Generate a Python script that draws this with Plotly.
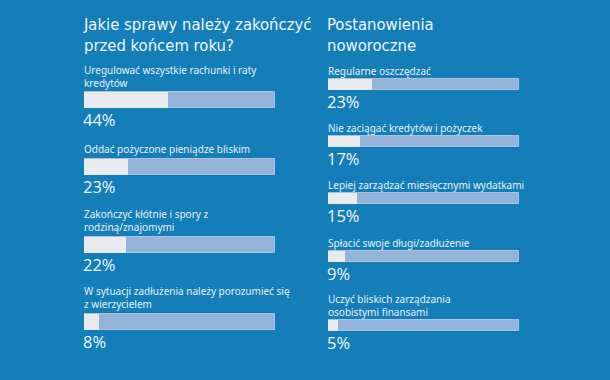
import plotly.graph_objects as go

# ---- data ----
left_title = ["Jakie sprawy należy zakończyć", "przed końcem roku?"]
left_labels = [
    "Uregulować wszystkie rachunki i raty\nkredytów",
    "Oddać pożyczone pieniądze bliskim",
    "Zakończyć kłótnie i spory z\nrodziną/znajomymi",
    "W sytuacji zadłużenia należy porozumieć się\nz wierzycielem",
]
left_values = [44, 23, 22, 8]

right_title = ["Postanowienia", "noworoczne"]
right_labels = [
    "Regularne oszczędzać",
    "Nie zaciągać kredytów i pożyczek",
    "Lepiej zarządzać miesięcznymi wydatkami",
    "Spłacić swoje długi/zadłużenie",
    "Uczyć bliskich zarządzania\nosobistymi finansami",
]
right_values = [23, 17, 15, 9, 5]

# ---- layout / style ----
W, H = 610, 380
BG = "#137eb8"
TRACK = "#94b3d9"
FILL = "#e9ebef"
TXT = "#e8eff6"
LABEL_FONT = "Noto Sans"
TITLE_FONT = "DejaVu Sans Condensed"

left_centers = [100, 166.5, 244.5, 321.5]
left_h = 16
right_centers = [84.5, 141.5, 198.5, 256.5, 325.5]
right_h = 11

fig = go.Figure()
annotations = []


def add_panel(xref, labels, values, centers, h, title, title_y, gap):
    fig.add_trace(go.Bar(
        x=[100] * len(values), y=centers, width=h, orientation="h",
        marker=dict(color=TRACK, line=dict(color="#a7c1e2", width=1)),
        xaxis=xref, yaxis="y", hoverinfo="skip", showlegend=False))
    fig.add_trace(go.Bar(
        x=values, y=centers, width=h, orientation="h",
        marker=dict(color=FILL, line=dict(width=0)),
        xaxis=xref, yaxis="y", showlegend=False))
    annotations.append(dict(
        x=0, y=title_y, xref=xref, yref="y", text="<br>".join(title),
        showarrow=False, xanchor="left", yanchor="top", xshift=-3, align="left",
        font=dict(family=TITLE_FONT, size=16.5, color="#f2f6fa")))
    for lab, v, c in zip(labels, values, centers):
        top = c - h / 2
        annotations.append(dict(
            x=0, y=top - gap, xref=xref, yref="y",
            text="<br>".join(lab.split("\n")), showarrow=False, align="left",
            xanchor="left", yanchor="bottom", xshift=-2,
            font=dict(family=LABEL_FONT, size=10, color=TXT)))
        annotations.append(dict(
            x=0, y=c + h / 2 + 11.5, xref=xref, yref="y", text=f"{v}%",
            showarrow=False, xanchor="left", yanchor="middle", xshift=-3,
            font=dict(family="Open Sans", size=16.5, color="#f4f7fa")))


add_panel("x", left_labels, left_values, left_centers, left_h, left_title, 13, 0.5)
add_panel("x2", right_labels, right_values, right_centers, right_h, right_title, 13, -1)

ax = dict(range=[0, 100], showgrid=False, zeroline=False, showticklabels=False,
          showline=False, fixedrange=True)
fig.update_layout(
    width=W, height=H, margin=dict(l=0, r=0, t=0, b=0),
    paper_bgcolor=BG, plot_bgcolor=BG, barmode="overlay", bargap=0,
    xaxis=dict(domain=[84 / W, 275 / W], **ax),
    xaxis2=dict(domain=[328 / W, 519 / W], anchor="y", **ax),
    yaxis=dict(range=[H, 0], domain=[0, 1], showgrid=False, zeroline=False,
               showticklabels=False, fixedrange=True),
    annotations=annotations,
)

fig.write_html("out.html", config={"displayModeBar": False},
               post_script="document.body.style.margin='0';"
                           "document.body.style.background='" + BG + "';")
